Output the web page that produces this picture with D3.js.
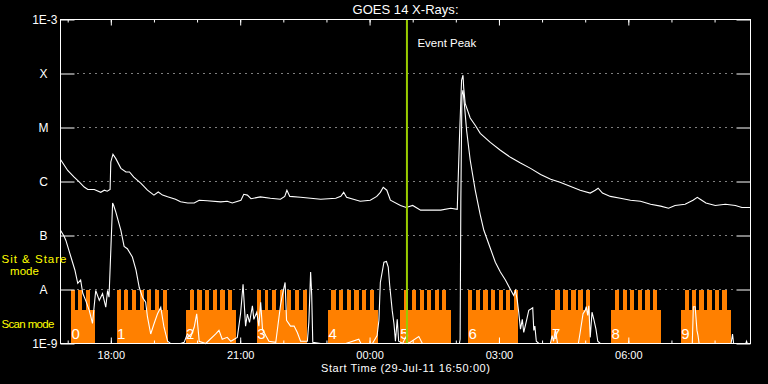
<!DOCTYPE html>
<html>
<head>
<meta charset="utf-8">
<script src="https://cdn.jsdelivr.net/npm/d3@7"></script>
<style>
body { margin: 0; background: #000; }
svg { display: block; }
text { font-family: "Liberation Sans", Arial, sans-serif; fill: #fff; }
</style>
</head>
<body>
<div id="chart"></div>
<script>
// GOES 14 X-ray flux, 29-Jul-11 16:50 to 30-Jul-11 08:50 UT
var startTime = new Date(2011, 6, 29, 16, 50);
var endTime = new Date(2011, 6, 30, 8, 50);
var eventPeak = 482; // minutes after start

var fluxTicks = [1e-3, 1e-4, 1e-5, 1e-6, 1e-7, 1e-8, 1e-9];
var fluxLabels = ["1E-3", "X", "M", "C", "B", "A", "1E-9"];
var gridFlux = [1e-4, 1e-5, 1e-6, 1e-7, 1e-8];

// [minutes after start, W/m^2]
var longChannel = [[0,2.55e-6],[10,1.6e-6],[19,1.2e-6],[26,9.8e-7],[33,7.9e-7],[38,7.1e-7],[47,7.1e-7],[56,6.3e-7],[61,6.9e-7],[65,6.6e-7],[69,7.1e-7],[70,2.3e-6],[73,3.2e-6],[77,2.65e-6],[84,1.75e-6],[91,1.5e-6],[96,1.5e-6],[102,1.2e-6],[112,9.2e-7],[121,6.9e-7],[130,5.6e-7],[136,6.4e-7],[142,5.6e-7],[149,5.2e-7],[160,4.7e-7],[167,4.2e-7],[177,4.0e-7],[186,4.0e-7],[193,4.5e-7],[204,4.4e-7],[223,4.2e-7],[232,4.3e-7],[239,4.0e-7],[251,4.5e-7],[255,5.8e-7],[260,5.6e-7],[265,4.8e-7],[278,5.2e-7],[292,4.9e-7],[306,4.7e-7],[312,5.3e-7],[315,6.9e-7],[319,5.3e-7],[334,5.1e-7],[362,4.7e-7],[383,4.9e-7],[390,5.3e-7],[394,6.3e-7],[398,5.1e-7],[417,4.3e-7],[431,4.5e-7],[440,5.3e-7],[445,6.3e-7],[449,7.8e-7],[454,6.9e-7],[459,4.5e-7],[473,3.6e-7],[481,3.3e-7],[490,3.6e-7],[501,2.95e-7],[529,2.95e-7],[543,3.2e-7],[552,3.05e-7],[555,5.8e-6],[558,7.5e-5],[560,9.3e-5],[561,5.4e-5],[563,2.8e-5],[570,1.5e-5],[577,1.1e-5],[584,7.8e-6],[598,5.3e-6],[612,3.8e-6],[626,2.8e-6],[640,2.2e-6],[654,1.75e-6],[668,1.35e-6],[682,1.1e-6],[695,9.7e-7],[709,8.2e-7],[723,6.9e-7],[737,6.1e-7],[744,6.9e-7],[748,7.5e-7],[754,6.1e-7],[765,5.3e-7],[779,4.9e-7],[793,4.5e-7],[807,4.3e-7],[821,3.8e-7],[835,3.5e-7],[846,3.2e-7],[855,3.6e-7],[869,3.8e-7],[880,4.5e-7],[886,5.1e-7],[890,4.7e-7],[898,4.0e-7],[911,3.6e-7],[925,3.8e-7],[939,3.6e-7],[948,3.3e-7],[960,3.3e-7]];

var shortChannel = [[0,1.25e-7],[5,9.7e-8],[7.5,8.1e-8],[14.5,4.0e-8],[20,2.3e-8],[24,1.3e-8],[28,1.5e-8],[31,8.5e-9],[35,6.3e-9],[40,4.1e-9],[44.5,2.35e-9],[49,9.6e-9],[54,6.3e-9],[58.5,8.4e-9],[63,4.7e-9],[65.5,9.6e-9],[67.5,7.2e-9],[70,5.3e-8],[72.5,4.0e-7],[74,3.6e-7],[77,2.7e-7],[84,1.25e-7],[88.5,6.3e-8],[93,5.7e-8],[100,4.0e-8],[105,2.3e-8],[109.5,1.1e-8],[114,7.2e-9],[118.5,5.8e-9],[121,3.1e-9],[125.5,1.5e-9],[130,2.3e-9],[135,3.55e-9],[139.5,4.7e-9],[144,2.0e-9],[149,1.1e-9],[153,9e-10],[167,9e-10],[172,1.05e-9],[176.5,1.5e-9],[181,1.3e-9],[186,2.0e-9],[189.5,3.55e-9],[193,1.1e-9],[202,9e-10],[216,1.5e-9],[220.5,1.75e-9],[225,1.2e-9],[232,1.3e-9],[237,1.1e-9],[246,1.3e-9],[250.5,3.55e-9],[254,1.25e-8],[257.5,2.1e-9],[260,3.5e-9],[263,2.45e-9],[267,5.0e-9],[269,2.8e-9],[273,3.8e-9],[276,2.1e-9],[278.5,5.8e-9],[281,1.85e-9],[285.5,1.4e-9],[290,1.1e-9],[299.5,1.05e-9],[306,5.0e-9],[308.5,7.7e-9],[312.5,1.35e-8],[314.5,2.7e-9],[320,2.1e-9],[325,2.1e-9],[329.5,1.6e-9],[334,1.1e-9],[343.5,1.1e-9],[345.5,2.45e-9],[348,2.1e-8],[349.5,7.8e-9],[351,1.05e-9],[362,9e-10],[376,9e-10],[397,9e-10],[415,1.2e-9],[418,9e-10],[434,9e-10],[440.5,1.4e-9],[443,2.7e-9],[445,1.35e-8],[450,3.2e-8],[453.5,3.3e-8],[456,2.6e-8],[458,1.2e-8],[461.5,4.1e-9],[464,2.3e-9],[466,1.1e-9],[468.5,2.8e-9],[470.5,1.1e-9],[476,9e-10],[480,1.3e-9],[484,9e-10],[498.5,1.35e-9],[503.5,9e-10],[555,9e-10],[556,1.2e-9],[557,4.5e-7],[558.5,4.0e-5],[560,4.9e-5],[562,2.6e-5],[565,8.9e-6],[570,2.5e-6],[577,6.9e-7],[584,2.4e-7],[589,1.25e-7],[598,5.8e-8],[605,3.2e-8],[612,2.1e-8],[619,1.5e-8],[626,1.0e-8],[630.5,7.8e-9],[633,9.6e-9],[635.5,6.3e-9],[637.5,3.8e-9],[640,1.85e-9],[642.5,2.8e-9],[644.5,1.6e-9],[648.5,2.7e-9],[651.5,4.1e-9],[655,4.4e-9],[657,4.6e-9],[658.5,1.75e-9],[660,2.1e-9],[662,1.1e-9],[665.5,9e-10],[681.5,9e-10],[684,1.4e-9],[686,1.1e-9],[688.5,1.85e-9],[691.5,9e-10],[720.5,9e-10],[723,1.6e-9],[727,3.55e-9],[730,4.1e-9],[731.5,4.8e-9],[733.5,3.3e-9],[735,5.0e-9],[737,1.3e-9],[739.5,3.8e-9],[742,2.8e-9],[745,1.85e-9],[747.5,1.1e-9],[751,9e-10],[879,9e-10],[880.5,4.8e-9],[883,4.8e-9],[885.5,1.75e-9],[887,1.4e-9],[888.5,9e-10],[933,9e-10],[935,1.5e-9],[936.5,9e-10],[953.5,9e-10],[954.5,1.1e-9],[955.5,9e-10],[960,9e-10]];

// SXI observing sequences: scan mode blocks and sit & stare intervals (minutes after start)
var scanBlocks = [[14.5,48],[78,149],[174,244],[273,343],[372,442],[472,543],[567,637],[683,737],[766,836],[863,933]];
var sequenceNames = ["0","1","2","3","4","5","6","7","8","9"];
var stareTeeth = [
	[14.5,20],[24.5,30],[35.5,41],
	[78,84],[88.5,94.5],[99,105],[110,116],[120.5,126.5],[131,137],[142,148],
	[180,186],[190.5,196.5],[201,207],[212,218],[222.5,228.5],[233,239],
	[273,278.5],[284,289],[294,300],[305.5,311],[315.5,321],[326,332],[337.5,343],
	[377,383],[387.5,393],[399,404.5],[409,415],[420,425.5],[430.5,436],
	[477.5,483],[489.5,495],[500,505.5],[510,516],[521,526.5],[531,536.5],
	[567,573],[578.5,584],[588.5,594.5],[599,605],[609.5,615.5],[620,626],[630.5,636.5],
	[688.5,695.5],[699.5,705.5],[710,717],[719.5,726.5],[731,737],
	[772,777.5],[782,788],[792.5,798.5],[803.5,809.5],[813.5,819.5],[824.5,830.5],
	[868.5,874.5],[878.5,884.5],[889,895.5],[899.5,906.5],[910,916.5],[920,927]
];
var stareLevel = 1e-8, scanLevel = 4.2e-9;

var outerWidth = 768, outerHeight = 384;
var plot = { left: 60.5, right: 750.5, top: 19.5, bottom: 343.5 };

function t(m) {
	return new Date(startTime.getTime() + m * 60000);
}

var svg = d3.select("#chart").append("svg")
	.attr("width", outerWidth)
	.attr("height", outerHeight)
	.style("background", "#000");

var x = d3.scaleTime().domain([startTime, endTime]).range([plot.left, plot.right]);
var y = d3.scaleLog().domain([1e-9, 1e-3]).range([plot.bottom, plot.top]).clamp(true);

// dotted grid
svg.append("g").selectAll("line").data(gridFlux).enter().append("line")
	.attr("x1", plot.left + 17).attr("x2", plot.right - 15)
	.attr("y1", function (d) { return y(d); })
	.attr("y2", function (d) { return y(d); })
	.attr("stroke", "#fff")
	.attr("stroke-dasharray", "1,5");

// orange sequence blocks
var modes = svg.append("g").attr("fill", "#ff8000").attr("shape-rendering", "crispEdges");
modes.selectAll(".scan").data(scanBlocks).enter().append("rect")
	.attr("class", "scan")
	.attr("x", function (d) { return x(t(d[0])); })
	.attr("width", function (d) { return x(t(d[1])) - x(t(d[0])); })
	.attr("y", y(scanLevel))
	.attr("height", y(1e-9) - y(scanLevel));
modes.selectAll(".stare").data(stareTeeth).enter().append("rect")
	.attr("class", "stare")
	.attr("x", function (d) { return x(t(d[0])); })
	.attr("width", function (d) { return x(t(d[1])) - x(t(d[0])); })
	.attr("y", y(stareLevel))
	.attr("height", y(1e-9) - y(stareLevel));

svg.append("g").selectAll("text").data(scanBlocks).enter().append("text")
	.attr("x", function (d) { return x(t(d[0])) + 0.5; })
	.attr("y", 338.5)
	.style("font-size", "15px")
	.style("font-weight", "300")
	.text(function (d, i) { return sequenceNames[i]; });

// flux curves
var line = d3.line()
	.x(function (d) { return x(t(d[0])); })
	.y(function (d) { return y(d[1]); });
[longChannel, shortChannel].forEach(function (series) {
	svg.append("path").datum(series)
		.attr("d", line)
		.attr("fill", "none")
		.attr("stroke", "#fff")
		.attr("stroke-width", 1.1);
});

// event peak marker
var xPeak = x(t(eventPeak));
svg.append("line")
	.attr("x1", xPeak).attr("x2", xPeak)
	.attr("y1", plot.top).attr("y2", plot.bottom)
	.attr("stroke", "#99cc00").attr("stroke-width", 2);
svg.append("text")
	.attr("x", xPeak + 10.5).attr("y", 46.5)
	.style("font-size", "11.5px")
	.text("Event Peak");

// time axes: hourly minor ticks, 3-hourly major ticks
var everyHour = d3.timeHour.every(1), every3 = d3.timeHour.every(3);
function styleAxis(g) {
	g.selectAll("path.domain").remove();
	g.selectAll("line").attr("stroke", "#fff");
	g.selectAll("text").attr("fill", "#fff").style("font-size", "11px").attr("font-family", null);
}
svg.append("g").attr("transform", "translate(0," + plot.bottom + ")")
	.call(d3.axisBottom(x).ticks(everyHour).tickSize(-3).tickFormat("")).call(styleAxis);
svg.append("g").attr("transform", "translate(0," + plot.bottom + ")")
	.call(d3.axisBottom(x).ticks(every3).tickSize(-6).tickPadding(8).tickFormat(d3.timeFormat("%H:%M"))).call(styleAxis);
svg.append("g").attr("transform", "translate(0," + plot.top + ")")
	.call(d3.axisTop(x).ticks(everyHour).tickSize(-3).tickFormat("")).call(styleAxis);
svg.append("g").attr("transform", "translate(0," + plot.top + ")")
	.call(d3.axisTop(x).ticks(every3).tickSize(-6).tickFormat("")).call(styleAxis);

// flux axes
var yLeft = svg.append("g").attr("transform", "translate(" + plot.left + ",0)")
	.call(d3.axisLeft(y).tickValues(fluxTicks).tickSize(-14).tickPadding(3)
		.tickFormat(function (d, i) { return fluxLabels[i]; }))
	.call(styleAxis);
yLeft.selectAll("text").style("font-size", "12px")
	.filter(function (d, i) { return fluxLabels[i].length == 1; })
	.attr("text-anchor", "middle").attr("x", -17);
svg.append("g").attr("transform", "translate(" + plot.right + ",0)")
	.call(d3.axisRight(y).tickValues(fluxTicks).tickSize(-14).tickFormat(""))
	.call(styleAxis);

// frame
svg.append("rect")
	.attr("x", plot.left).attr("y", plot.top)
	.attr("width", plot.right - plot.left).attr("height", plot.bottom - plot.top)
	.attr("fill", "none").attr("stroke", "#fff");

// titles
var xMid = (plot.left + plot.right) / 2;
svg.append("text").attr("x", xMid).attr("y", 14).attr("text-anchor", "middle")
	.style("font-size", "13px").attr("textLength", 106).text("GOES 14 X-Rays:");
svg.append("text").attr("x", xMid).attr("y", 372).attr("text-anchor", "middle")
	.style("font-size", "11px").attr("textLength", 169).text("Start Time (29-Jul-11 16:50:00)");

// mode legend
var yellow = svg.append("g").style("font-size", "11.5px");
yellow.append("text").attr("x", 1.5).attr("y", 263).attr("textLength", 65).style("fill", "#ff0").text("Sit & Stare");
yellow.append("text").attr("x", 24.5).attr("y", 275).attr("text-anchor", "middle").style("fill", "#ff0").text("mode");
yellow.append("text").attr("x", 1.5).attr("y", 328).attr("textLength", 53).style("fill", "#ff0").text("Scan mode");
</script>
</body>
</html>
